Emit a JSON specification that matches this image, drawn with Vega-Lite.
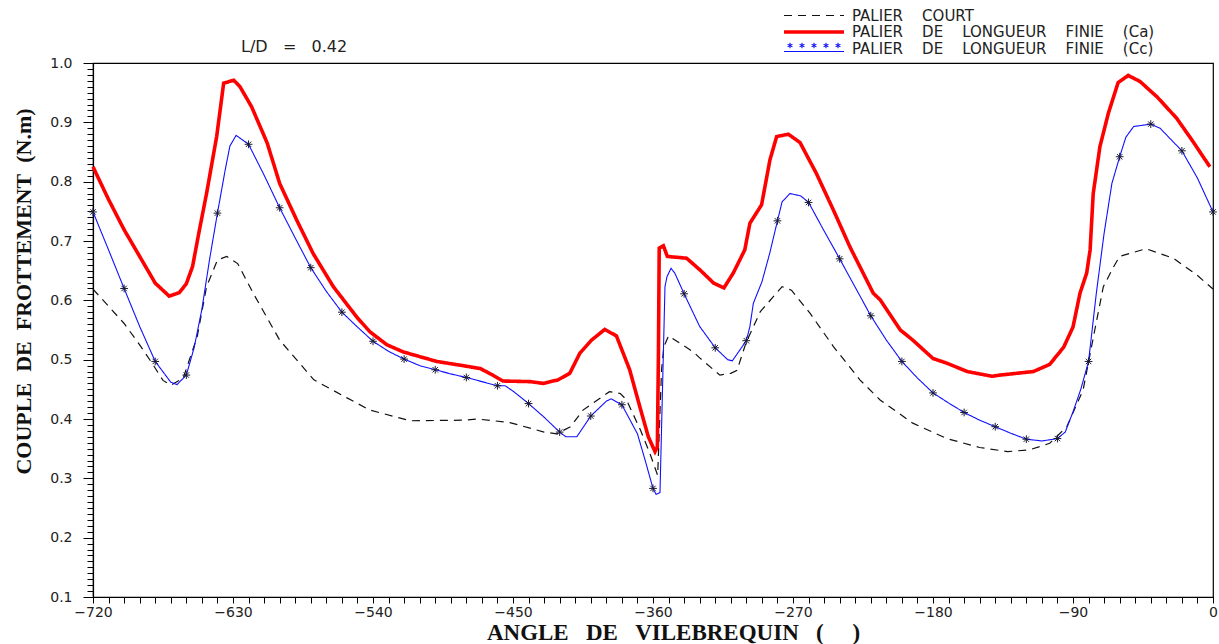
{
  "$schema": "https://vega.github.io/schema/vega-lite/v6.json",
  "autosize": {"type": "none"},
  "width": 1120,
  "height": 534,
  "padding": {"left": 93, "top": 63, "right": 6, "bottom": 47},
  "background": "white",
  "config": {
    "view": {"stroke": "#000000", "strokeWidth": 1.2},
    "axis": {"grid": false, "domainColor": "#000000", "tickColor": "#000000", "labelColor": "#222222", "titleColor": "#111111"}
  },
  "title": {
    "text": "L/D\u00a0 \u00a0=\u00a0 \u00a00.42",
    "anchor": "start",
    "frame": "group",
    "dx": 148,
    "dy": 59,
    "offset": 12,
    "font": "DejaVu Sans",
    "fontSize": 16,
    "fontWeight": "normal",
    "color": "#222222"
  },
  "data": {
    "values": [
      {"a": -720, "v": 0.619, "s": "court"},
      {"a": -710, "v": 0.590, "s": "court"},
      {"a": -700, "v": 0.561, "s": "court"},
      {"a": -690, "v": 0.525, "s": "court"},
      {"a": -682, "v": 0.494, "s": "court"},
      {"a": -675, "v": 0.465, "s": "court"},
      {"a": -670, "v": 0.457, "s": "court"},
      {"a": -662, "v": 0.469, "s": "court"},
      {"a": -653, "v": 0.539, "s": "court"},
      {"a": -647, "v": 0.623, "s": "court"},
      {"a": -640, "v": 0.668, "s": "court"},
      {"a": -634, "v": 0.674, "s": "court"},
      {"a": -627, "v": 0.662, "s": "court"},
      {"a": -617, "v": 0.612, "s": "court"},
      {"a": -600, "v": 0.533, "s": "court"},
      {"a": -578, "v": 0.466, "s": "court"},
      {"a": -557, "v": 0.436, "s": "court"},
      {"a": -542, "v": 0.415, "s": "court"},
      {"a": -516, "v": 0.397, "s": "court"},
      {"a": -482, "v": 0.398, "s": "court"},
      {"a": -473, "v": 0.400, "s": "court"},
      {"a": -452, "v": 0.394, "s": "court"},
      {"a": -430, "v": 0.378, "s": "court"},
      {"a": -422, "v": 0.375, "s": "court"},
      {"a": -413, "v": 0.387, "s": "court"},
      {"a": -405, "v": 0.415, "s": "court"},
      {"a": -388, "v": 0.446, "s": "court"},
      {"a": -381, "v": 0.443, "s": "court"},
      {"a": -377, "v": 0.432, "s": "court"},
      {"a": -368, "v": 0.381, "s": "court"},
      {"a": -362, "v": 0.342, "s": "court"},
      {"a": -357, "v": 0.305, "s": "court"},
      {"a": -354.5, "v": 0.483, "s": "court"},
      {"a": -353, "v": 0.522, "s": "court"},
      {"a": -350, "v": 0.540, "s": "court"},
      {"a": -334, "v": 0.513, "s": "court"},
      {"a": -330, "v": 0.503, "s": "court"},
      {"a": -317, "v": 0.474, "s": "court"},
      {"a": -310, "v": 0.477, "s": "court"},
      {"a": -306, "v": 0.482, "s": "court"},
      {"a": -300, "v": 0.530, "s": "court"},
      {"a": -291, "v": 0.581, "s": "court"},
      {"a": -277, "v": 0.623, "s": "court"},
      {"a": -271, "v": 0.617, "s": "court"},
      {"a": -259, "v": 0.578, "s": "court"},
      {"a": -244, "v": 0.522, "s": "court"},
      {"a": -227, "v": 0.466, "s": "court"},
      {"a": -214, "v": 0.432, "s": "court"},
      {"a": -193, "v": 0.393, "s": "court"},
      {"a": -171, "v": 0.367, "s": "court"},
      {"a": -150, "v": 0.352, "s": "court"},
      {"a": -132, "v": 0.345, "s": "court"},
      {"a": -118, "v": 0.348, "s": "court"},
      {"a": -105, "v": 0.359, "s": "court"},
      {"a": -94, "v": 0.387, "s": "court"},
      {"a": -83.5, "v": 0.449, "s": "court"},
      {"a": -76, "v": 0.550, "s": "court"},
      {"a": -70.5, "v": 0.623, "s": "court"},
      {"a": -64, "v": 0.656, "s": "court"},
      {"a": -60, "v": 0.674, "s": "court"},
      {"a": -43, "v": 0.687, "s": "court"},
      {"a": -25.5, "v": 0.671, "s": "court"},
      {"a": -10.5, "v": 0.643, "s": "court"},
      {"a": 0, "v": 0.619, "s": "court"},

      {"a": -720, "v": 0.825, "s": "ca"},
      {"a": -710, "v": 0.770, "s": "ca"},
      {"a": -700, "v": 0.719, "s": "ca"},
      {"a": -690, "v": 0.674, "s": "ca"},
      {"a": -680, "v": 0.629, "s": "ca"},
      {"a": -671, "v": 0.607, "s": "ca"},
      {"a": -664.5, "v": 0.613, "s": "ca"},
      {"a": -660, "v": 0.628, "s": "ca"},
      {"a": -656, "v": 0.657, "s": "ca"},
      {"a": -652, "v": 0.713, "s": "ca"},
      {"a": -647, "v": 0.780, "s": "ca"},
      {"a": -640.5, "v": 0.876, "s": "ca"},
      {"a": -636, "v": 0.966, "s": "ca"},
      {"a": -629.5, "v": 0.971, "s": "ca"},
      {"a": -625.5, "v": 0.960, "s": "ca"},
      {"a": -618, "v": 0.926, "s": "ca"},
      {"a": -608, "v": 0.865, "s": "ca"},
      {"a": -600, "v": 0.797, "s": "ca"},
      {"a": -589, "v": 0.735, "s": "ca"},
      {"a": -578.5, "v": 0.679, "s": "ca"},
      {"a": -565.5, "v": 0.623, "s": "ca"},
      {"a": -550.5, "v": 0.572, "s": "ca"},
      {"a": -542, "v": 0.547, "s": "ca"},
      {"a": -531, "v": 0.525, "s": "ca"},
      {"a": -520.5, "v": 0.513, "s": "ca"},
      {"a": -499, "v": 0.497, "s": "ca"},
      {"a": -480, "v": 0.489, "s": "ca"},
      {"a": -471, "v": 0.485, "s": "ca"},
      {"a": -463, "v": 0.474, "s": "ca"},
      {"a": -456.5, "v": 0.464, "s": "ca"},
      {"a": -439, "v": 0.463, "s": "ca"},
      {"a": -430.5, "v": 0.460, "s": "ca"},
      {"a": -421, "v": 0.466, "s": "ca"},
      {"a": -413.5, "v": 0.477, "s": "ca"},
      {"a": -407, "v": 0.511, "s": "ca"},
      {"a": -399.5, "v": 0.533, "s": "ca"},
      {"a": -391, "v": 0.551, "s": "ca"},
      {"a": -383.5, "v": 0.540, "s": "ca"},
      {"a": -375, "v": 0.483, "s": "ca"},
      {"a": -368.5, "v": 0.421, "s": "ca"},
      {"a": -363, "v": 0.370, "s": "ca"},
      {"a": -358.7, "v": 0.345, "s": "ca"},
      {"a": -357.2, "v": 0.353, "s": "ca"},
      {"a": -356.5, "v": 0.511, "s": "ca"},
      {"a": -356, "v": 0.688, "s": "ca"},
      {"a": -353.3, "v": 0.692, "s": "ca"},
      {"a": -350.8, "v": 0.674, "s": "ca"},
      {"a": -338.4, "v": 0.671, "s": "ca"},
      {"a": -329.7, "v": 0.651, "s": "ca"},
      {"a": -321, "v": 0.629, "s": "ca"},
      {"a": -314.4, "v": 0.621, "s": "ca"},
      {"a": -308.4, "v": 0.646, "s": "ca"},
      {"a": -301, "v": 0.685, "s": "ca"},
      {"a": -297.7, "v": 0.730, "s": "ca"},
      {"a": -290.2, "v": 0.761, "s": "ca"},
      {"a": -284.8, "v": 0.837, "s": "ca"},
      {"a": -280.5, "v": 0.876, "s": "ca"},
      {"a": -273, "v": 0.880, "s": "ca"},
      {"a": -265.5, "v": 0.866, "s": "ca"},
      {"a": -255, "v": 0.814, "s": "ca"},
      {"a": -244, "v": 0.752, "s": "ca"},
      {"a": -233.4, "v": 0.690, "s": "ca"},
      {"a": -218.4, "v": 0.612, "s": "ca"},
      {"a": -214, "v": 0.601, "s": "ca"},
      {"a": -201, "v": 0.550, "s": "ca"},
      {"a": -193, "v": 0.533, "s": "ca"},
      {"a": -180, "v": 0.502, "s": "ca"},
      {"a": -171, "v": 0.494, "s": "ca"},
      {"a": -158, "v": 0.480, "s": "ca"},
      {"a": -142, "v": 0.472, "s": "ca"},
      {"a": -137, "v": 0.474, "s": "ca"},
      {"a": -115.5, "v": 0.480, "s": "ca"},
      {"a": -105, "v": 0.492, "s": "ca"},
      {"a": -96, "v": 0.521, "s": "ca"},
      {"a": -90, "v": 0.555, "s": "ca"},
      {"a": -85.5, "v": 0.612, "s": "ca"},
      {"a": -81.2, "v": 0.646, "s": "ca"},
      {"a": -79, "v": 0.685, "s": "ca"},
      {"a": -77, "v": 0.780, "s": "ca"},
      {"a": -72.7, "v": 0.859, "s": "ca"},
      {"a": -67.3, "v": 0.915, "s": "ca"},
      {"a": -61, "v": 0.967, "s": "ca"},
      {"a": -54.5, "v": 0.979, "s": "ca"},
      {"a": -47, "v": 0.969, "s": "ca"},
      {"a": -36, "v": 0.943, "s": "ca"},
      {"a": -23.4, "v": 0.907, "s": "ca"},
      {"a": -12.7, "v": 0.867, "s": "ca"},
      {"a": -2, "v": 0.825, "s": "ca"},

      {"a": -720, "v": 0.749, "s": "cc"},
      {"a": -710, "v": 0.685, "s": "cc"},
      {"a": -700, "v": 0.620, "s": "cc"},
      {"a": -690, "v": 0.556, "s": "cc"},
      {"a": -680, "v": 0.497, "s": "cc"},
      {"a": -670, "v": 0.462, "s": "cc"},
      {"a": -666, "v": 0.458, "s": "cc"},
      {"a": -660, "v": 0.474, "s": "cc"},
      {"a": -655, "v": 0.520, "s": "cc"},
      {"a": -650, "v": 0.585, "s": "cc"},
      {"a": -645, "v": 0.670, "s": "cc"},
      {"a": -640, "v": 0.747, "s": "cc"},
      {"a": -635, "v": 0.820, "s": "cc"},
      {"a": -632, "v": 0.860, "s": "cc"},
      {"a": -628, "v": 0.878, "s": "cc"},
      {"a": -620, "v": 0.863, "s": "cc"},
      {"a": -610, "v": 0.811, "s": "cc"},
      {"a": -600, "v": 0.756, "s": "cc"},
      {"a": -590, "v": 0.705, "s": "cc"},
      {"a": -580, "v": 0.655, "s": "cc"},
      {"a": -570, "v": 0.615, "s": "cc"},
      {"a": -560, "v": 0.580, "s": "cc"},
      {"a": -550, "v": 0.555, "s": "cc"},
      {"a": -540, "v": 0.531, "s": "cc"},
      {"a": -530, "v": 0.514, "s": "cc"},
      {"a": -520, "v": 0.501, "s": "cc"},
      {"a": -510, "v": 0.490, "s": "cc"},
      {"a": -500, "v": 0.483, "s": "cc"},
      {"a": -490, "v": 0.476, "s": "cc"},
      {"a": -480, "v": 0.470, "s": "cc"},
      {"a": -470, "v": 0.463, "s": "cc"},
      {"a": -460, "v": 0.456, "s": "cc"},
      {"a": -455, "v": 0.456, "s": "cc"},
      {"a": -450, "v": 0.447, "s": "cc"},
      {"a": -440, "v": 0.426, "s": "cc"},
      {"a": -430, "v": 0.403, "s": "cc"},
      {"a": -420, "v": 0.378, "s": "cc"},
      {"a": -416, "v": 0.370, "s": "cc"},
      {"a": -409, "v": 0.370, "s": "cc"},
      {"a": -400, "v": 0.405, "s": "cc"},
      {"a": -390, "v": 0.430, "s": "cc"},
      {"a": -387, "v": 0.434, "s": "cc"},
      {"a": -380, "v": 0.424, "s": "cc"},
      {"a": -370, "v": 0.375, "s": "cc"},
      {"a": -365, "v": 0.330, "s": "cc"},
      {"a": -360, "v": 0.283, "s": "cc"},
      {"a": -358, "v": 0.273, "s": "cc"},
      {"a": -355.5, "v": 0.276, "s": "cc"},
      {"a": -352.3, "v": 0.623, "s": "cc"},
      {"a": -351, "v": 0.640, "s": "cc"},
      {"a": -348.4, "v": 0.654, "s": "cc"},
      {"a": -346, "v": 0.646, "s": "cc"},
      {"a": -340, "v": 0.611, "s": "cc"},
      {"a": -330, "v": 0.556, "s": "cc"},
      {"a": -320, "v": 0.520, "s": "cc"},
      {"a": -312, "v": 0.500, "s": "cc"},
      {"a": -309, "v": 0.498, "s": "cc"},
      {"a": -300, "v": 0.532, "s": "cc"},
      {"a": -297.7, "v": 0.556, "s": "cc"},
      {"a": -295.5, "v": 0.595, "s": "cc"},
      {"a": -290, "v": 0.631, "s": "cc"},
      {"a": -285, "v": 0.679, "s": "cc"},
      {"a": -280, "v": 0.734, "s": "cc"},
      {"a": -277, "v": 0.766, "s": "cc"},
      {"a": -272, "v": 0.780, "s": "cc"},
      {"a": -265, "v": 0.776, "s": "cc"},
      {"a": -260, "v": 0.765, "s": "cc"},
      {"a": -250, "v": 0.717, "s": "cc"},
      {"a": -240, "v": 0.670, "s": "cc"},
      {"a": -230, "v": 0.622, "s": "cc"},
      {"a": -220, "v": 0.574, "s": "cc"},
      {"a": -210, "v": 0.533, "s": "cc"},
      {"a": -200, "v": 0.497, "s": "cc"},
      {"a": -190, "v": 0.469, "s": "cc"},
      {"a": -180, "v": 0.444, "s": "cc"},
      {"a": -170, "v": 0.427, "s": "cc"},
      {"a": -160, "v": 0.411, "s": "cc"},
      {"a": -150, "v": 0.398, "s": "cc"},
      {"a": -140, "v": 0.387, "s": "cc"},
      {"a": -130, "v": 0.376, "s": "cc"},
      {"a": -120, "v": 0.366, "s": "cc"},
      {"a": -110, "v": 0.363, "s": "cc"},
      {"a": -100, "v": 0.367, "s": "cc"},
      {"a": -95, "v": 0.378, "s": "cc"},
      {"a": -90, "v": 0.412, "s": "cc"},
      {"a": -85, "v": 0.450, "s": "cc"},
      {"a": -80, "v": 0.497, "s": "cc"},
      {"a": -75, "v": 0.612, "s": "cc"},
      {"a": -70, "v": 0.713, "s": "cc"},
      {"a": -65, "v": 0.797, "s": "cc"},
      {"a": -60, "v": 0.842, "s": "cc"},
      {"a": -56, "v": 0.875, "s": "cc"},
      {"a": -51, "v": 0.893, "s": "cc"},
      {"a": -40, "v": 0.897, "s": "cc"},
      {"a": -34, "v": 0.890, "s": "cc"},
      {"a": -20, "v": 0.852, "s": "cc"},
      {"a": -10, "v": 0.806, "s": "cc"},
      {"a": 0, "v": 0.749, "s": "cc"}
    ]
  },
  "encoding": {
    "x": {
      "field": "a",
      "type": "quantitative",
      "scale": {"domain": [-720, 0], "nice": false, "zero": false},
      "axis": {
        "title": "ANGLE\u00a0 \u00a0DE\u00a0 \u00a0VILEBREQUIN\u00a0 \u00a0(\u00a0 \u00a0 \u00a0)",
        "titleFont": "Liberation Serif",
        "titleFontSize": 23,
        "titleFontWeight": "bold",
        "titlePadding": 2,
        "titleX": 580,
        "values": [-720,-710,-700,-690,-680,-670,-660,-650,-640,-630,-620,-610,-600,-590,-580,-570,-560,-550,-540,-530,-520,-510,-500,-490,-480,-470,-460,-450,-440,-430,-420,-410,-400,-390,-380,-370,-360,-350,-340,-330,-320,-310,-300,-290,-280,-270,-260,-250,-240,-230,-220,-210,-200,-190,-180,-170,-160,-150,-140,-130,-120,-110,-100,-90,-80,-70,-60,-50,-40,-30,-20,-10,0],
        "labelExpr": "datum.value % 90 == 0 ? datum.label : ''",
        "labelOverlap": false,
        "labelFlush": false,
        "labelBound": false,
        "labelFont": "DejaVu Sans",
        "labelFontSize": 14,
        "labelPadding": 2,
        "tickSize": 6,
        "tickWidth": 1,
        "domainWidth": 1.2
      }
    },
    "y": {
      "field": "v",
      "type": "quantitative",
      "scale": {"domain": [0.1, 1.0], "nice": false, "zero": false},
      "axis": {
        "title": "COUPLE\u00a0 DE\u00a0 FROTTEMENT\u00a0 (N.m)",
        "titleFont": "Liberation Serif",
        "titleFontSize": 22,
        "titleFontWeight": 600,
        "titlePadding": 14,
        "titleY": 228,
        "values": [0.1,0.11,0.12,0.13,0.14,0.15,0.16,0.17,0.18,0.19,0.2,0.21,0.22,0.23,0.24,0.25,0.26,0.27,0.28,0.29,0.3,0.31,0.32,0.33,0.34,0.35,0.36,0.37,0.38,0.39,0.4,0.41,0.42,0.43,0.44,0.45,0.46,0.47,0.48,0.49,0.5,0.51,0.52,0.53,0.54,0.55,0.56,0.57,0.58,0.59,0.6,0.61,0.62,0.63,0.64,0.65,0.66,0.67,0.68,0.69,0.7,0.71,0.72,0.73,0.74,0.75,0.76,0.77,0.78,0.79,0.8,0.81,0.82,0.83,0.84,0.85,0.86,0.87,0.88,0.89,0.9,0.91,0.92,0.93,0.94,0.95,0.96,0.97,0.98,0.99,1.0],
        "labelExpr": "abs(datum.value * 10 - round(datum.value * 10)) < 0.001 ? format(datum.value, '.1f') : ''",
        "labelOverlap": false,
        "labelFlush": false,
        "labelBound": false,
        "labelFont": "DejaVu Sans",
        "labelFontSize": 14,
        "labelPadding": 11,
        "tickSize": {"condition": {"test": "abs(datum.value * 10 - round(datum.value * 10)) < 0.001", "value": 10}, "value": 6},
        "tickWidth": 1,
        "domainWidth": 1.2
      }
    }
  },
  "layer": [
    {
      "mark": {"type": "line", "interpolate": "linear"},
      "encoding": {
        "color": {
          "field": "s",
          "type": "nominal",
          "scale": {"domain": ["court", "ca", "cc"], "range": ["#111111", "#ff0000", "#1010ff"]},
          "legend": {
            "title": null,
            "orient": "none",
            "legendX": 689,
            "legendY": -55,
            "padding": 0,
            "symbolType": "stroke",
            "symbolSize": 3600,
            "clipHeight": 15,
            "rowPadding": 0.5,
            "labelOffset": 6,
            "labelFont": "DejaVu Sans",
            "labelFontSize": 15,
            "labelColor": "#222222",
            "labelLimit": 500,
            "labelExpr": "datum.value == 'court' ? 'PALIER\u00a0 \u00a0 COURT' : datum.value == 'ca' ? 'PALIER\u00a0 \u00a0 DE\u00a0 \u00a0 LONGUEUR\u00a0 \u00a0 FINIE\u00a0 \u00a0 (Ca)' : 'PALIER\u00a0 \u00a0 DE\u00a0 \u00a0 LONGUEUR\u00a0 \u00a0 FINIE\u00a0 \u00a0 (Cc)'",
            "encode": {
              "symbols": {
                "update": {
                  "shape": {"signal": "datum.value == 'cc' ? 'M-1,0.1H1M-0.8,-0.19V-0.01M-0.88,-0.145L-0.72,-0.055M-0.88,-0.055L-0.72,-0.145M-0.4,-0.19V-0.01M-0.48,-0.145L-0.32,-0.055M-0.48,-0.055L-0.32,-0.145M0,-0.19V-0.01M-0.08,-0.145L0.08,-0.055M-0.08,-0.055L0.08,-0.145M0.4,-0.19V-0.01M0.32,-0.145L0.48,-0.055M0.32,-0.055L0.48,-0.145M0.8,-0.19V-0.01M0.72,-0.145L0.88,-0.055M0.72,-0.055L0.88,-0.145' : 'M-1,0H1'"}
                }
              }
            }
          }
        },
        "strokeDash": {
          "field": "s",
          "type": "nominal",
          "scale": {"domain": ["court", "ca", "cc"], "range": [[8, 6], [1, 0], [1, 0]]}
        },
        "strokeWidth": {
          "field": "s",
          "type": "nominal",
          "scale": {"type": "ordinal", "domain": ["court", "ca", "cc"], "range": [1.2, 3.6, 1.1]}
        }
      }
    },
    {
      "transform": [
        {"filter": "datum.s == 'cc' && datum.a % 20 == 0"}
      ],
      "mark": {
        "type": "point",
        "shape": "M0,-1V1M-1,0H1M-0.7,-0.7L0.7,0.7M-0.7,0.7L0.7,-0.7",
        "size": 60,
        "filled": false,
        "strokeWidth": 1,
        "color": "#1a1a33",
        "opacity": 1
      },
      "encoding": {}
    }
  ]
}
